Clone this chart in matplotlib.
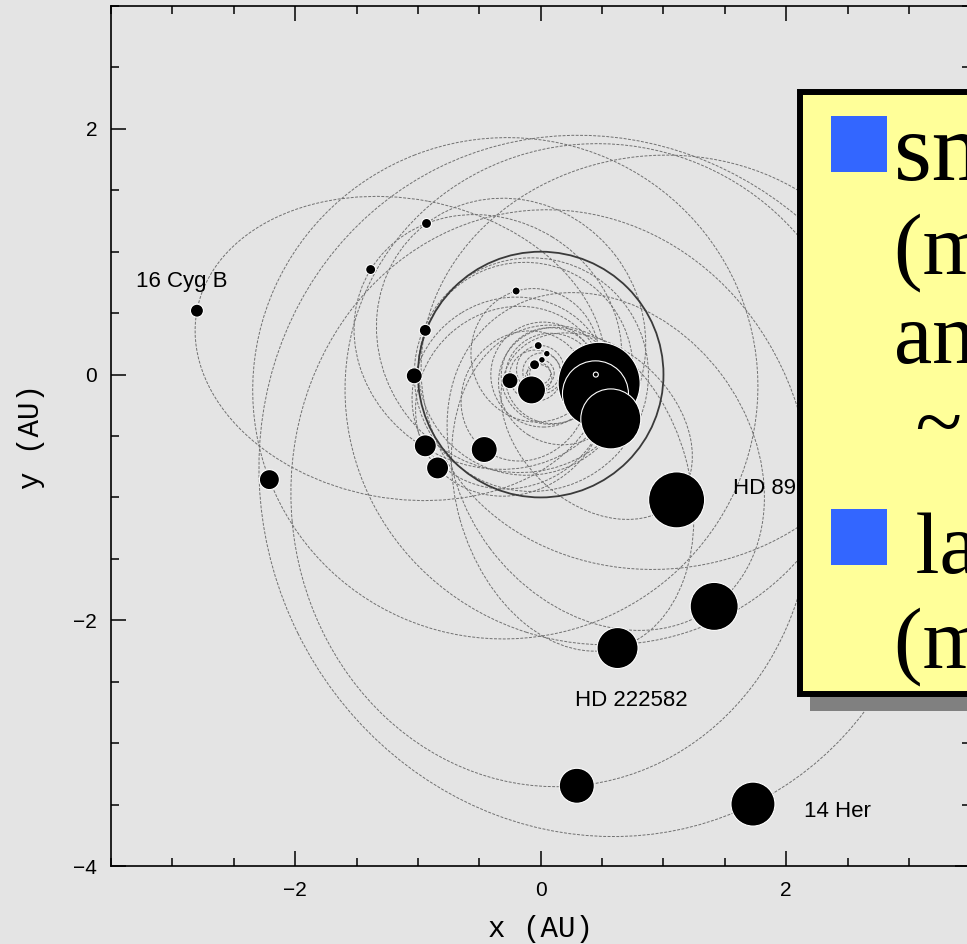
import numpy as np
import matplotlib.pyplot as plt
from matplotlib.patches import Ellipse, Circle, Rectangle
from matplotlib.ticker import MultipleLocator

# planets are drawn at apastron; orbit = ellipse with the star (origin) at one focus
planet_x = [-2.80, -0.93, -1.385, -0.20, -0.94, -1.03, -0.25, -0.94, -0.84, -0.46,
            -2.21, -0.02, 0.05, 0.01, -0.05, -0.075, 0.476, 0.446, 0.449, 0.571,
            1.107, 1.413, 0.626, 0.294, 1.729, 2.50, 2.90]
planet_y = [0.52, 1.23, 0.855, 0.68, 0.36, -0.01, -0.05, -0.58, -0.76, -0.61,
            -0.855, 0.236, 0.17, 0.12, 0.08, -0.125, -0.071, -0.157, 0.0, -0.361,
            -1.02, -1.887, -2.226, -3.347, -3.496, -0.80, 0.30]
planet_e = [0.69, 0.35, 0.45, 0.30, 0.15, 0.08, 0.20, 0.35, 0.40, 0.40,
            0.15, 0.20, 0.15, 0.10, 0.10, 0.30, 0.20, 0.25, 0.05, 0.35,
            0.70, 0.60, 0.71, 0.43, 0.35, 0.25, 0.50]
dot_radius = [6.5, 5, 5, 4, 6, 8, 8, 11, 11, 13,
              10, 4, 3.3, 3.3, 5, 14, 41, 33, 2.5, 30,
              28, 24, 20.5, 17.5, 22, 15, 12]

label_names = ["16 Cyg B", "HD 89744", "HD 222582", "14 Her"]
label_x = [-3.30, 1.563, 0.278, 2.145]
label_y = [0.71, -0.969, -2.70, -3.605]

bullet_lines = ["small planets", "(m sin i", "and", " ~", " large planets", "(m sin i"]

bg = '#e4e4e4'
W, H = 967, 944
fig = plt.figure(figsize=(W / 100, H / 100), dpi=100, facecolor=bg)
ax = fig.add_axes([111 / W, 78 / H, 859.4 / W, 860 / H], facecolor=bg)

px = np.array(planet_x)
py = np.array(planet_y)
ecc = np.array(planet_e)
r = np.hypot(px, py)
theta = np.arctan2(py, px)
a = r / (1 + ecc)
b = a * np.sqrt(1 - ecc ** 2)
cx = ecc / (1 + ecc) * px
cy = ecc / (1 + ecc) * py

for i in range(len(px)):
    ax.add_patch(Ellipse((cx[i], cy[i]), 2 * a[i], 2 * b[i], angle=np.degrees(theta[i]),
                         fill=False, edgecolor='#707070', lw=0.7, ls=(0, (3, 1.5)), zorder=1))

# 1 AU reference circle
ax.add_patch(Circle((0, 0), 1.0, fill=False, edgecolor='#3a3a3a', lw=1.3, zorder=2))

ax.scatter(px, py, s=(1.44 * np.array(dot_radius)) ** 2, c='black',
           edgecolors='white', linewidths=0.8, zorder=3)

for name, lx, ly in zip(label_names, label_x, label_y):
    ax.text(lx, ly, name, fontsize=16, family='Liberation Sans', va='baseline', zorder=4)

ax.set_xlim(-3.5, 3.5)
ax.set_ylim(-4, 3)
ax.xaxis.set_major_locator(MultipleLocator(2))
ax.xaxis.set_minor_locator(MultipleLocator(0.5))
ax.yaxis.set_major_locator(MultipleLocator(2))
ax.yaxis.set_minor_locator(MultipleLocator(0.5))
ax.tick_params(which='both', direction='in', top=True, right=True, width=1.1)
ax.tick_params(which='major', length=10.8, labelsize=15)
ax.tick_params(axis='x', which='major', pad=11)
ax.tick_params(axis='y', which='major', pad=10)
ax.tick_params(which='minor', length=5.8)
for lab in ax.get_xticklabels() + ax.get_yticklabels():
    lab.set_family('Liberation Sans')
for sp in ax.spines.values():
    sp.set_linewidth(1.2)

fig.text(541 / W, 1 - 929 / H, "x (AU)", fontsize=21, family='Liberation Mono',
         ha='center', va='center')
fig.text(31 / W, 1 - 437 / H, "y (AU)", fontsize=21, family='Liberation Mono',
         ha='center', va='center', rotation=90)

# yellow text box overlay
tf = fig.transFigure
fig.add_artist(Rectangle((810 / W, 1 - 711 / H), 200 / W, 609 / H, transform=tf,
                         facecolor='#808080', edgecolor='none', zorder=10))
fig.add_artist(Rectangle((800 / W, 1 - 694 / H), 200 / W, 602 / H, transform=tf,
                         facecolor='#ffff99', edgecolor='black', lw=4.3, zorder=11))
for top in [116, 509]:
    fig.add_artist(Rectangle((831 / W, 1 - (top + 56) / H), 56 / W, 56 / H, transform=tf,
                             facecolor='#3366ff', edgecolor='none', zorder=12))

baselines = [180, 273, 363, 450, 573, 667]
sizes = [70, 62, 62, 62, 62, 62]
for txt, yb, fs in zip(bullet_lines, baselines, sizes):
    fig.text(894 / W, 1 - yb / H, txt, fontsize=fs, family='Liberation Serif',
             va='baseline', ha='left', zorder=13)

fig.savefig('out.png', dpi=100, facecolor=bg)
